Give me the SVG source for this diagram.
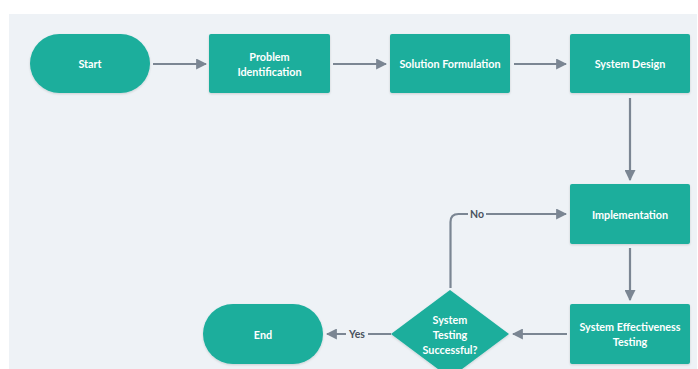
<svg xmlns="http://www.w3.org/2000/svg" width="698" height="369" viewBox="0 0 698 369">
  <defs>
    <marker id="arrow" viewBox="0 0 10 10" refX="9" refY="5" markerWidth="5" markerHeight="5" orient="auto">
      <path d="M0,0 L10,5 L0,10 Z" fill="#7b8693"/>
    </marker>
    <filter id="shadow" x="-10%" y="-10%" width="120%" height="130%">
      <feDropShadow dx="0" dy="1" stdDeviation="1" flood-color="#000" flood-opacity="0.15"/>
    </filter>
  </defs>
  <style>
    .shape { fill: #1bae9c; filter: url(#shadow); }
    .label { fill: #ffffff; font-family: Lato, "Liberation Sans", sans-serif; font-weight: bold; font-size: 10.8px; text-anchor: middle; dominant-baseline: central; }
    .edge { fill: none; stroke: #7b8693; stroke-width: 2.2; marker-end: url(#arrow); }
    .elabel { fill: #4a5360; font-family: Lato, "Liberation Sans", sans-serif; font-weight: bold; font-size: 10.5px; text-anchor: middle; dominant-baseline: central; }
  </style>

  <rect x="0" y="0" width="698" height="369" fill="#ffffff"/>
  <rect x="9" y="14" width="688" height="355" fill="#eef2f6"/>

  <g id="connectors">
    <line class="edge" x1="153" y1="64" x2="206" y2="64"/>
    <line class="edge" x1="333" y1="64" x2="386" y2="64"/>
    <line class="edge" x1="514" y1="64" x2="566" y2="64"/>
    <line class="edge" x1="630" y1="98" x2="630" y2="180"/>
    <line class="edge" x1="630" y1="248" x2="630" y2="300"/>
    <line class="edge" x1="567" y1="334" x2="513" y2="334"/>
    <path class="edge" d="M450.5,288 V222 Q450.5,214 458.5,214 H566"/>
    <path class="edge" d="M391,334 H327"/>
    <rect x="468" y="207" width="18" height="14" fill="#eef2f6"/>
    <text class="elabel" x="477" y="214">No</text>
    <rect x="346" y="327" width="22" height="14" fill="#eef2f6"/>
    <text class="elabel" x="357" y="334">Yes</text>
  </g>

  <g id="start">
    <rect class="shape" x="30" y="34" width="120" height="59" rx="29.5"/>
    <text class="label" x="90" y="63.5">Start</text>
  </g>
  <g id="problem-identification">
    <rect class="shape" x="209" y="34" width="121" height="59" rx="2"/>
    <text class="label" x="269.5" y="56">Problem</text>
    <text class="label" x="269.5" y="71">Identification</text>
  </g>
  <g id="solution-formulation">
    <rect class="shape" x="390" y="34" width="120" height="59" rx="2"/>
    <text class="label" x="450" y="63.5">Solution Formulation</text>
  </g>
  <g id="system-design">
    <rect class="shape" x="570" y="34" width="120" height="59" rx="2"/>
    <text class="label" x="630" y="63.5">System Design</text>
  </g>
  <g id="implementation">
    <rect class="shape" x="570" y="184" width="120" height="60" rx="2"/>
    <text class="label" x="630" y="214">Implementation</text>
  </g>
  <g id="system-effectiveness-testing">
    <rect class="shape" x="570" y="304" width="120" height="60" rx="2"/>
    <text class="label" x="630" y="326.5">System Effectiveness</text>
    <text class="label" x="630" y="341.5">Testing</text>
  </g>
  <g id="system-testing-decision">
    <polygon class="shape" points="450,290 509,334 450,378 391,334"/>
    <text class="label" x="450" y="319">System</text>
    <text class="label" x="450" y="334">Testing</text>
    <text class="label" x="450" y="349">Successful?</text>
  </g>
  <g id="end">
    <rect class="shape" x="203" y="304" width="120" height="60" rx="30"/>
    <text class="label" x="263" y="334">End</text>
  </g>
</svg>
